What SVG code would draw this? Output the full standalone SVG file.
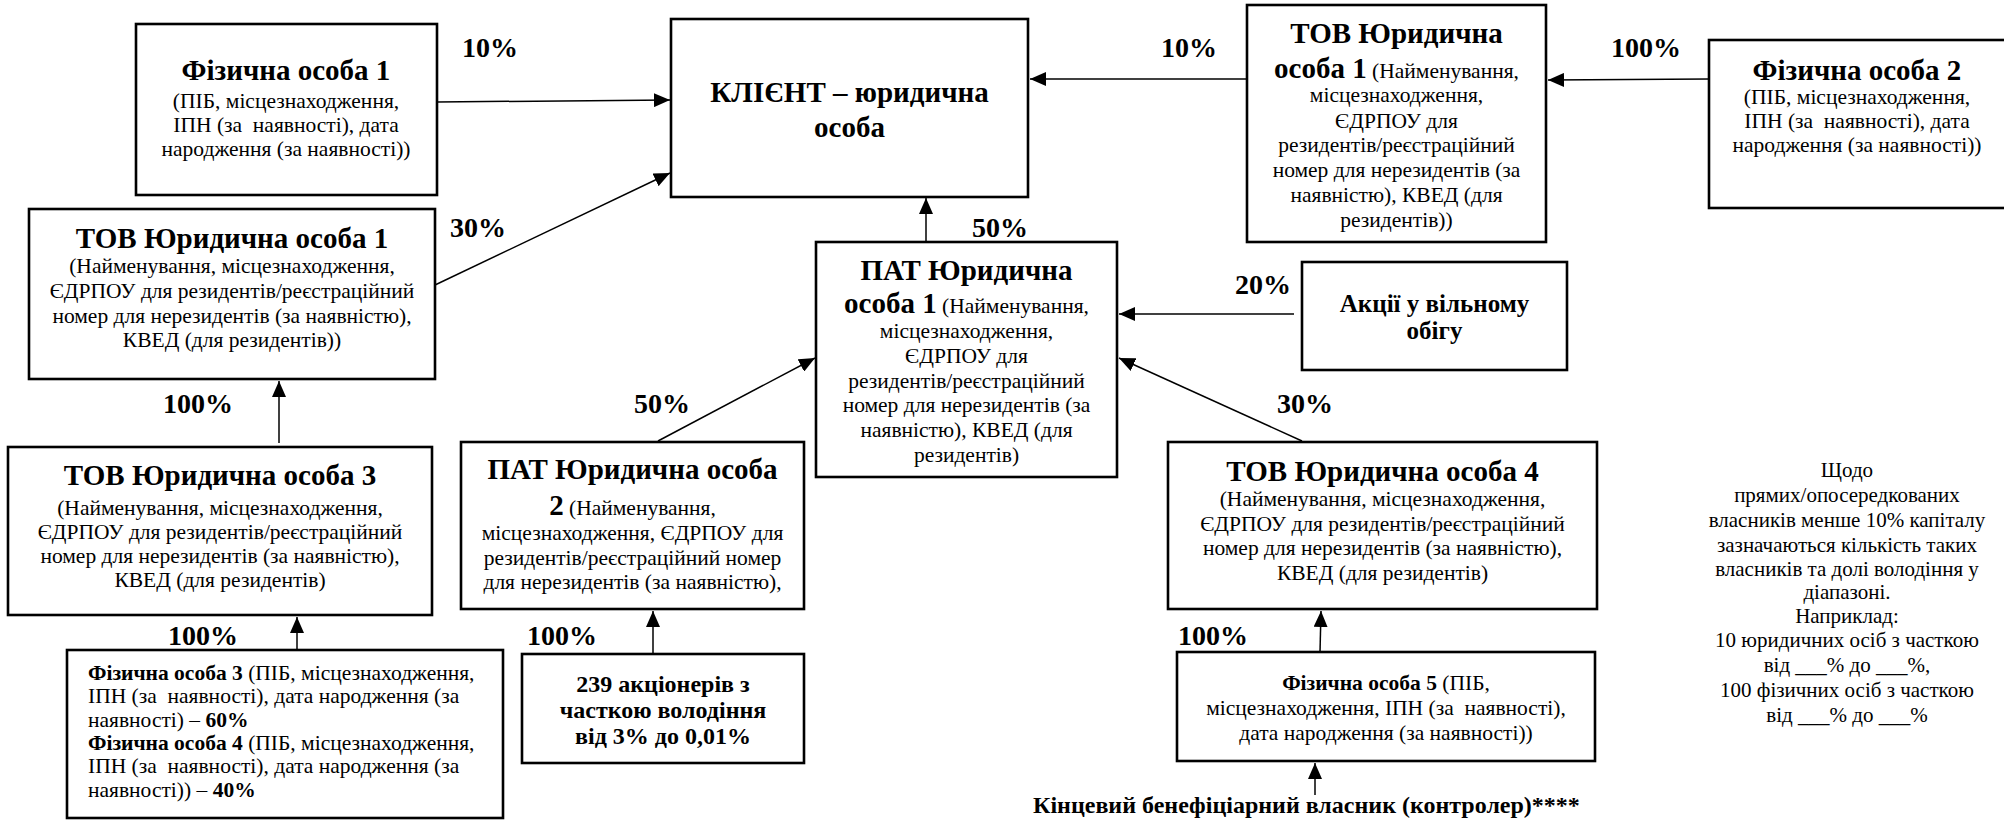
<svg xmlns="http://www.w3.org/2000/svg" width="2004" height="820" viewBox="0 0 2004 820" font-family="'Liberation Serif', 'Times New Roman', serif">
<defs>
<style>
.box{fill:#fff;stroke:#000;stroke-width:2.6}
.t{font-family:"Liberation Serif","Times New Roman",serif;fill:#000;font-size:21.5px}
.c{text-anchor:middle}
.h{font-size:29px;font-weight:bold}
.b{font-weight:bold}
.pct{font-family:"Liberation Serif","Times New Roman",serif;font-size:28px;font-weight:bold;fill:#000}
.con{stroke:#000;stroke-width:1.5;fill:none;marker-end:url(#ah)}
</style>
<marker id="ah" markerUnits="userSpaceOnUse" viewBox="0 0 16 14" refX="16" refY="7" markerWidth="16" markerHeight="14" orient="auto">
<path d="M0,0 L16,7 L0,14 z" fill="#000"/>
</marker>
</defs>
<rect width="2004" height="820" fill="#fff"/>

<g id="connectors">
<line class="con" x1="437" y1="102" x2="670" y2="100"/>
<line class="con" x1="435" y1="285" x2="670" y2="173"/>
<line class="con" x1="1247" y1="79" x2="1030" y2="79"/>
<line class="con" x1="1709" y1="79" x2="1548" y2="80"/>
<line class="con" x1="926" y1="242" x2="926" y2="198"/>
<line class="con" x1="1294" y1="314" x2="1119" y2="314"/>
<line class="con" x1="658" y1="441" x2="815" y2="358"/>
<line class="con" x1="1302" y1="441" x2="1119" y2="358"/>
<line class="con" x1="279" y1="443" x2="279" y2="381"/>
<line class="con" x1="297" y1="650" x2="297" y2="617"/>
<line class="con" x1="653" y1="654" x2="653" y2="611"/>
<line class="con" x1="1320" y1="652" x2="1321" y2="611"/>
<line class="con" x1="1315" y1="795" x2="1315" y2="763"/>
</g>

<g id="labels">
<text class="pct" x="462" y="57">10%</text>
<text class="pct" x="450" y="237">30%</text>
<text class="pct" x="1161" y="57">10%</text>
<text class="pct" x="1611" y="57">100%</text>
<text class="pct" x="972" y="237">50%</text>
<text class="pct" x="1235" y="294">20%</text>
<text class="pct" x="634" y="413">50%</text>
<text class="pct" x="1277" y="413">30%</text>
<text class="pct" x="163" y="413">100%</text>
<text class="pct" x="168" y="645">100%</text>
<text class="pct" x="527" y="645">100%</text>
<text class="pct" x="1178" y="645">100%</text>
</g>

<g id="fiz1">
<rect class="box" x="136" y="24" width="301" height="171"/>
<text class="t c h" x="286" y="80">Фізична особа 1</text>
<text class="t c" x="286" y="108">(ПІБ, місцезнаходження,</text>
<text class="t c" x="286" y="132">ІПН (за&#160; наявності), дата</text>
<text class="t c" x="286" y="156">народження (за наявності))</text>
</g>

<g id="client">
<rect class="box" x="671" y="19" width="357" height="178"/>
<text class="t c h" x="849.5" y="102">КЛІЄНТ – юридична</text>
<text class="t c h" x="849.5" y="137">особа</text>
</g>

<g id="tov1r">
<rect class="box" x="1247" y="5" width="299" height="237"/>
<text class="t c h" x="1396.5" y="43">ТОВ Юридична</text>
<text class="t c" x="1396.5" y="78"><tspan class="h">особа 1</tspan> (Найменування,</text>
<text class="t c" x="1396.5" y="102">місцезнаходження,</text>
<text class="t c" x="1396.5" y="128">ЄДРПОУ для</text>
<text class="t c" x="1396.5" y="152">резидентів/реєстраційний</text>
<text class="t c" x="1396.5" y="177">номер для нерезидентів (за</text>
<text class="t c" x="1396.5" y="202">наявністю), КВЕД (для</text>
<text class="t c" x="1396.5" y="227">резидентів))</text>
</g>

<g id="fiz2">
<rect class="box" x="1709" y="40" width="320" height="168"/>
<text class="t c h" x="1857" y="80">Фізична особа 2</text>
<text class="t c" x="1857" y="104">(ПІБ, місцезнаходження,</text>
<text class="t c" x="1857" y="128">ІПН (за&#160; наявності), дата</text>
<text class="t c" x="1857" y="152">народження (за наявності))</text>
</g>

<g id="tov1l">
<rect class="box" x="29" y="209" width="406" height="170"/>
<text class="t c h" x="232" y="248">ТОВ Юридична особа 1</text>
<text class="t c" x="232" y="273">(Найменування, місцезнаходження,</text>
<text class="t c" x="232" y="298">ЄДРПОУ для резидентів/реєстраційний</text>
<text class="t c" x="232" y="323">номер для нерезидентів (за наявністю),</text>
<text class="t c" x="232" y="347">КВЕД (для резидентів))</text>
</g>

<g id="pat1">
<rect class="box" x="816" y="242" width="301" height="235"/>
<text class="t c h" x="966.5" y="280">ПАТ Юридична</text>
<text class="t c" x="966.5" y="313"><tspan class="h">особа 1</tspan> (Найменування,</text>
<text class="t c" x="966.5" y="338">місцезнаходження,</text>
<text class="t c" x="966.5" y="363">ЄДРПОУ для</text>
<text class="t c" x="966.5" y="388">резидентів/реєстраційний</text>
<text class="t c" x="966.5" y="412">номер для нерезидентів (за</text>
<text class="t c" x="966.5" y="437">наявністю), КВЕД (для</text>
<text class="t c" x="966.5" y="462">резидентів)</text>
</g>

<g id="akcii">
<rect class="box" x="1302" y="262" width="265" height="108"/>
<text class="t c b" style="font-size:25px" x="1434.5" y="312">Акції у вільному</text>
<text class="t c b" style="font-size:25px" x="1434.5" y="339">обігу</text>
</g>

<g id="tov3">
<rect class="box" x="8" y="447" width="424" height="168"/>
<text class="t c h" x="220" y="485">ТОВ Юридична особа 3</text>
<text class="t c" x="220" y="515">(Найменування, місцезнаходження,</text>
<text class="t c" x="220" y="539">ЄДРПОУ для резидентів/реєстраційний</text>
<text class="t c" x="220" y="563">номер для нерезидентів (за наявністю),</text>
<text class="t c" x="220" y="587">КВЕД (для резидентів)</text>
</g>

<g id="pat2">
<rect class="box" x="461" y="442" width="343" height="167"/>
<text class="t c h" x="632.5" y="479">ПАТ Юридична особа</text>
<text class="t c" x="632.5" y="515"><tspan class="h">2</tspan> (Найменування,</text>
<text class="t c" x="632.5" y="540">місцезнаходження, ЄДРПОУ для</text>
<text class="t c" x="632.5" y="565">резидентів/реєстраційний номер</text>
<text class="t c" x="632.5" y="589">для нерезидентів (за наявністю),</text>
</g>

<g id="tov4">
<rect class="box" x="1168" y="442" width="429" height="167"/>
<text class="t c h" x="1382.5" y="481">ТОВ Юридична особа 4</text>
<text class="t c" x="1382.5" y="506">(Найменування, місцезнаходження,</text>
<text class="t c" x="1382.5" y="531">ЄДРПОУ для резидентів/реєстраційний</text>
<text class="t c" x="1382.5" y="555">номер для нерезидентів (за наявністю),</text>
<text class="t c" x="1382.5" y="580">КВЕД (для резидентів)</text>
</g>

<g id="fiz34">
<rect class="box" x="67" y="650" width="436" height="168"/>
<text class="t" x="88" y="680"><tspan class="b">Фізична особа 3</tspan> (ПІБ, місцезнаходження,</text>
<text class="t" x="88" y="703">ІПН (за&#160; наявності), дата народження (за</text>
<text class="t" x="88" y="727">наявності) – <tspan class="b">60%</tspan></text>
<text class="t" x="88" y="750"><tspan class="b">Фізична особа 4</tspan> (ПІБ, місцезнаходження,</text>
<text class="t" x="88" y="773">ІПН (за&#160; наявності), дата народження (за</text>
<text class="t" x="88" y="797">наявності)) – <tspan class="b">40%</tspan></text>
</g>

<g id="holders239">
<rect class="box" x="522" y="654" width="282" height="109"/>
<text class="t c b" style="font-size:24px" x="663" y="692">239 акціонерів з</text>
<text class="t c b" style="font-size:24px" x="663" y="718">часткою володіння</text>
<text class="t c b" style="font-size:24px" x="663" y="744">від 3% до 0,01%</text>
</g>

<g id="fiz5">
<rect class="box" x="1177" y="652" width="418" height="109"/>
<text class="t c" x="1386" y="690"><tspan class="b">Фізична особа 5</tspan> (ПІБ,</text>
<text class="t c" x="1386" y="715">місцезнаходження, ІПН (за&#160; наявності),</text>
<text class="t c" x="1386" y="740">дата народження (за наявності))</text>
</g>

<g id="ubo">
<text class="t b" style="font-size:24px" x="1033" y="813">Кінцевий бенефіціарний власник (контролер)****</text>
</g>

<g id="note">
<text class="t c" style="font-size:21px" x="1847" y="477">Щодо</text>
<text class="t c" style="font-size:21px" x="1847" y="502">прямих/опосередкованих</text>
<text class="t c" style="font-size:21px" x="1847" y="527">власників менше 10% капіталу</text>
<text class="t c" style="font-size:21px" x="1847" y="552">зазначаються кількість таких</text>
<text class="t c" style="font-size:21px" x="1847" y="576">власників та долі володіння у</text>
<text class="t c" style="font-size:21px" x="1847" y="599">діапазоні.</text>
<text class="t c" style="font-size:21px" x="1847" y="623">Наприклад:</text>
<text class="t c" style="font-size:21px" x="1847" y="647">10 юридичних осіб з часткою</text>
<text class="t c" style="font-size:21px" x="1847" y="672">від ___% до ___%,</text>
<text class="t c" style="font-size:21px" x="1847" y="697">100 фізичних осіб з часткою</text>
<text class="t c" style="font-size:21px" x="1847" y="722">від ___% до ___%</text>
</g>
</svg>
